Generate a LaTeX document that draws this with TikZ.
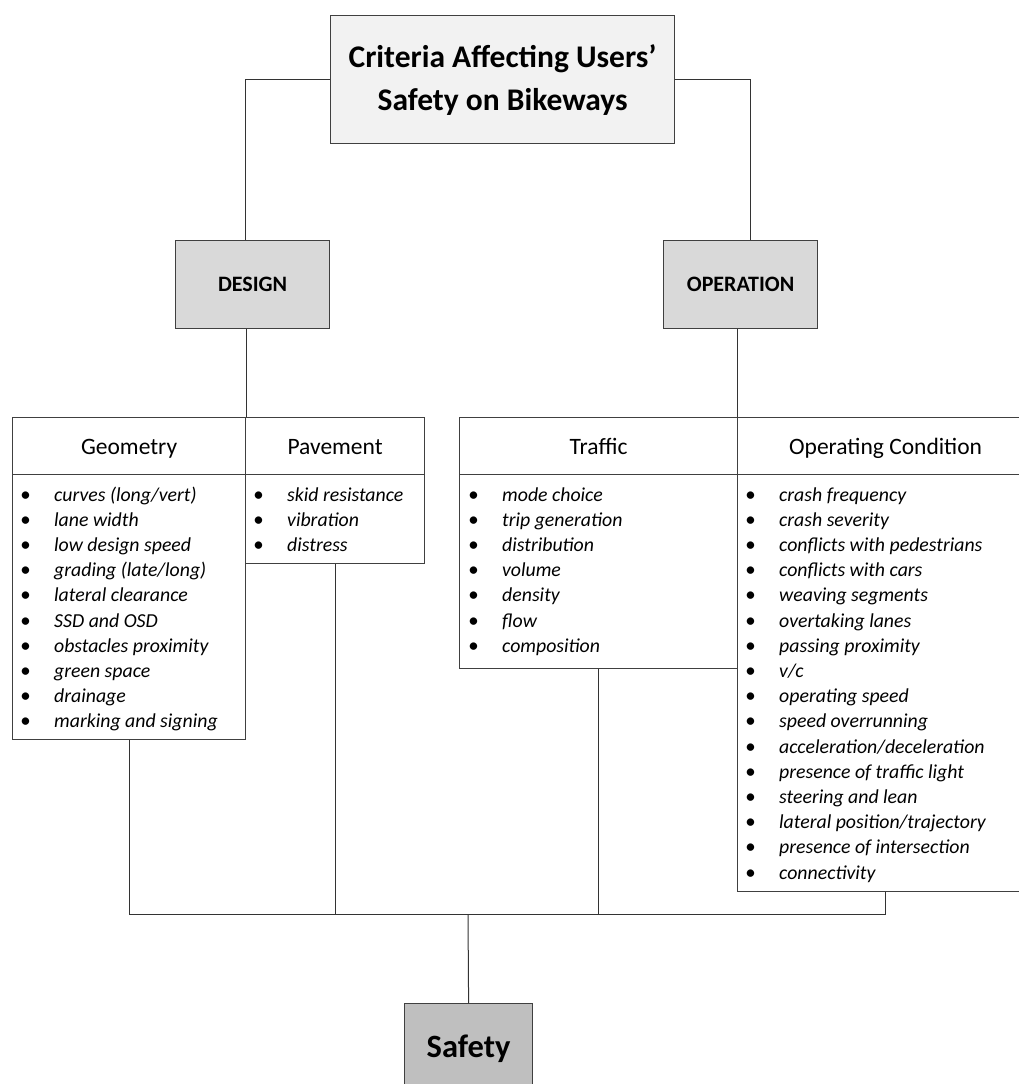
\documentclass[tikz,border=0pt]{standalone}
\usepackage{fontspec}
\setmainfont{Carlito}
\usetikzlibrary{positioning}
\newcommand{\itembullet}{\makebox[35pt][l]{\hspace*{1pt}\fontsize{21}{21}\selectfont\textbullet}}
\begin{document}
\begin{tikzpicture}[x=1pt,y=-1pt,
  box/.style={draw=black!75,line width=1.2pt,anchor=north west,inner sep=0pt},
  head/.style={box,minimum height=57pt,text height=21pt,text depth=5pt,font=\fontsize{23.5}{27}\selectfont},
  listbox/.style={box,fill=white},
  item/.style={anchor=base west,inner sep=0pt,font=\fontsize{19.8}{24}\selectfont\itshape},
  link/.style={draw=black!80,line width=1pt}]
\useasboundingbox (0,0) rectangle (1018,1084);

% top levels
\node[box,fill=black!5,minimum width=344pt,minimum height=128pt,align=center,
  font=\fontsize{31.5}{43}\selectfont\bfseries] (title) at (330,15) {Criteria Affecting Users’\\Safety on Bikeways};
\node[box,fill=black!15,minimum width=154pt,minimum height=88pt,font=\fontsize{22}{26}\selectfont\bfseries] (design) at (175,240) {DESIGN};
\node[box,fill=black!15,minimum width=154pt,minimum height=88pt,font=\fontsize{22}{26}\selectfont\bfseries] (operation) at (663,240) {OPERATION};

% headers and lists
\node[head,minimum width=233pt] (geoHead) at (12,417) {Geometry};
\node[head,minimum width=179pt] (pavHead) at (245,417) {Pavement};
\node[head,minimum width=278pt] (trafHead) at (459,417) {Traffic};
\node[head,minimum width=296pt] (opHead) at (737,417) {Operating Condition};
\node[listbox,minimum width=233pt,minimum height=265pt] (geoList) at (12,474) {};
\node[listbox,minimum width=179pt,minimum height=89pt] (pavList) at (245,474) {};
\node[listbox,minimum width=278pt,minimum height=194pt] (trafList) at (459,474) {};
\node[listbox,minimum width=296pt,minimum height=417pt] (opList) at (737,474) {};

\foreach \t [count=\i from 0] in {curves (long/vert),lane width,low design speed,grading (late/long),
  lateral clearance,SSD and OSD,obstacles proximity,green space,drainage,marking and signing}
  \node[item] (geo-\i) at (19,501+25.2*\i) {\itembullet\t};
\foreach \t [count=\i from 0] in {skid resistance,vibration,distress}
  \node[item] (pav-\i) at (252,501+25.2*\i) {\itembullet\t};
\foreach \t [count=\i from 0] in {mode choice,trip generation,distribution,volume,density,flow,composition}
  \node[item] (traf-\i) at (465,501+25.2*\i) {\makebox[2pt][l]{}\itembullet\t};
\foreach \t [count=\i from 0] in {crash frequency,crash severity,conflicts with pedestrians,conflicts with cars,
  weaving segments,overtaking lanes,passing proximity,v/c,operating speed,speed overrunning,
  acceleration/deceleration,presence of traffic light,steering and lean,lateral position/trajectory,
  presence of intersection,connectivity}
  \node[item] (op-\i) at (744,501+25.2*\i) {\itembullet\t};

\node[box,fill=black!25,minimum width=128pt,minimum height=90pt,font=\fontsize{32.5}{38}\selectfont\bfseries] (safety) at (404,1003) {Safety};

% connectors
\coordinate (join) at (468,914);
\draw[link] (title.west) -| ([xshift=-7pt]design.north);
\draw[link] (title.east) -| ([xshift=9.5pt]operation.north);
\draw[link] (geoHead.north east |- design.south) -- (geoHead.north east);
\draw[link] (opHead.north west |- operation.south) -- (opHead.north west);
\draw[link] (geoList.south) |- (join) -| (opList.south);
\draw[link] (pavList.south) -- (pavList.south |- join);
\draw[link] (trafList.south) -- (trafList.south |- join);
\draw[link] (join) -- (safety.north);
\end{tikzpicture}
\end{document}
